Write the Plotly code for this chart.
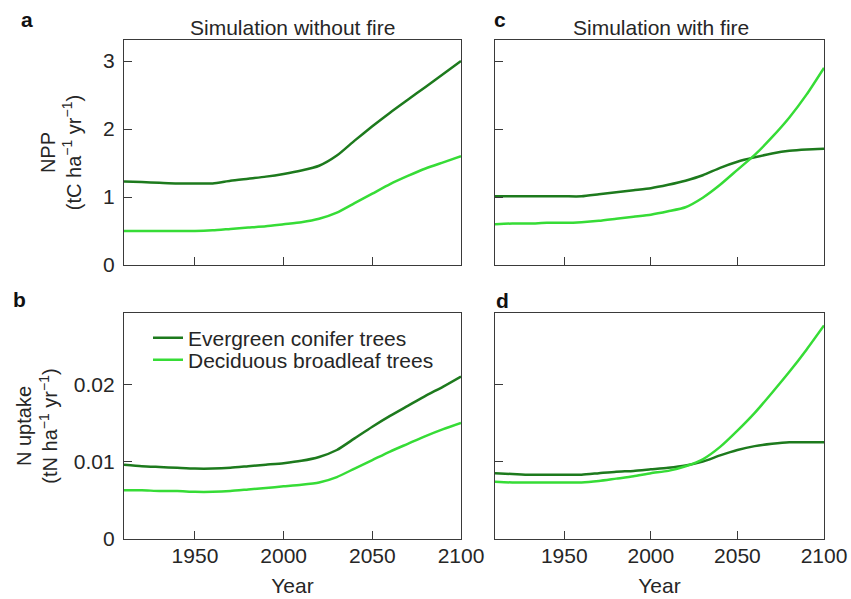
import plotly.graph_objects as go

# ---------------- data ----------------
years = [1910, 1920, 1930, 1940, 1950, 1960, 1970, 1980, 1990, 2000,
         2010, 2020, 2030, 2040, 2050, 2060, 2070, 2080, 2090, 2100]

# NPP (tC ha-1 yr-1), simulation without fire (panel a)
npp_nofire_evergreen = [1.23, 1.22, 1.21, 1.20, 1.20, 1.20, 1.24, 1.27, 1.30, 1.34,
                        1.39, 1.46, 1.61, 1.83, 2.04, 2.24, 2.43, 2.62, 2.81, 3.00]
npp_nofire_deciduous = [0.50, 0.50, 0.50, 0.50, 0.50, 0.51, 0.53, 0.55, 0.57, 0.60,
                        0.63, 0.68, 0.77, 0.91, 1.05, 1.19, 1.31, 1.42, 1.51, 1.60]
# NPP, simulation with fire (panel c)
npp_fire_evergreen = [1.01, 1.01, 1.01, 1.01, 1.01, 1.01, 1.04, 1.07, 1.10, 1.13,
                      1.18, 1.24, 1.32, 1.43, 1.52, 1.585, 1.64, 1.68, 1.70, 1.71]
npp_fire_deciduous = [0.60, 0.61, 0.61, 0.62, 0.62, 0.63, 0.65, 0.68, 0.71, 0.74,
                      0.79, 0.85, 0.99, 1.18, 1.40, 1.62, 1.88, 2.17, 2.51, 2.90]
# N uptake (tN ha-1 yr-1), without fire (panel b)
nup_nofire_evergreen = [0.0096, 0.0094, 0.0093, 0.0092, 0.0091, 0.0091, 0.0092, 0.0094, 0.0096, 0.0098,
                        0.0101, 0.0106, 0.0115, 0.0130, 0.0145, 0.0159, 0.0172, 0.0185, 0.0197, 0.0210]
nup_nofire_deciduous = [0.0063, 0.0063, 0.0062, 0.0062, 0.0061, 0.0061, 0.0062, 0.0064, 0.0066, 0.0068,
                        0.0070, 0.0073, 0.0080, 0.0091, 0.0102, 0.0113, 0.0123, 0.0133, 0.0142, 0.0150]
# N uptake, with fire (panel d)
nup_fire_evergreen = [0.0085, 0.0084, 0.0083, 0.0083, 0.0083, 0.0083, 0.0085, 0.0087, 0.0088, 0.0090,
                      0.0092, 0.0095, 0.0100, 0.0108, 0.0115, 0.0120, 0.0123, 0.0125, 0.0125, 0.0125]
nup_fire_deciduous = [0.0074, 0.0073, 0.0073, 0.0073, 0.0073, 0.0073, 0.0075, 0.0078, 0.0081, 0.0085,
                      0.0088, 0.0094, 0.0103, 0.0119, 0.0140, 0.0163, 0.0189, 0.0216, 0.0245, 0.0276]

series_names = ["Evergreen conifer trees", "Deciduous broadleaf trees"]
x_ticks = [1950, 2000, 2050, 2100]
npp_ticks = [0, 1, 2, 3]
nup_ticks = [0, 0.01, 0.02]
nup_ticklabels = ["0", "0.01", "0.02"]

# ---------------- style ----------------
DARK = "#1d7a1d"
LIGHT = "#36dc36"
FONT = "Liberation Sans, Arial, sans-serif"
TXT = "#262626"
AX = "#3a3a3a"
W, H = 851, 599
ML, MT = 124, 40
MR = W - 824
MB = H - 539
PW, PH = W - ML - MR, H - MT - MB


def px_x(p):
    """picture x pixel -> paper coordinate"""
    return (p - ML) / PW


def px_y(p):
    """picture y pixel -> paper coordinate"""
    return (H - MB - p) / PH


fig = go.Figure()

panels = [
    ("x", "y", npp_nofire_evergreen, npp_nofire_deciduous),
    ("x2", "y2", npp_fire_evergreen, npp_fire_deciduous),
    ("x3", "y3", nup_nofire_evergreen, nup_nofire_deciduous),
    ("x4", "y4", nup_fire_evergreen, nup_fire_deciduous),
]
for xa, ya, ev, de in panels:
    is_leg = (xa == "x3")
    fig.add_trace(go.Scatter(x=years, y=ev, xaxis=xa, yaxis=ya, mode="lines",
                             name=series_names[0], showlegend=is_leg, legend="legend",
                             line=dict(color=DARK, width=2.5, shape="spline", smoothing=0.6)))
    fig.add_trace(go.Scatter(x=years, y=de, xaxis=xa, yaxis=ya, mode="lines",
                             name=series_names[1], showlegend=is_leg, legend="legend2",
                             line=dict(color=LIGHT, width=2.5, shape="spline", smoothing=0.6)))

xdom_left = [0, px_x(461)]
xdom_right = [px_x(495), 1]
ydom_top = [px_y(265), 1]
ydom_bot = [0, px_y(313)]

common_x = dict(range=[1910, 2100], tickvals=x_ticks, ticks="inside", ticklen=8, tickwidth=1.2,
                tickcolor=AX, showline=True, linecolor=AX, linewidth=1.2, mirror=True,
                showgrid=False, zeroline=False, ticklabelstandoff=-2,
                tickfont=dict(family=FONT, size=21, color=TXT))
common_y = dict(ticks="inside", ticklen=8, tickwidth=1.2, tickcolor=AX, showline=True,
                linecolor=AX, linewidth=1.2, mirror=True, showgrid=False, zeroline=False,
                ticklabelstandoff=4, tickfont=dict(family=FONT, size=21, color=TXT))

fig.update_layout(
    xaxis=dict(common_x, domain=xdom_left, anchor="y", showticklabels=False),
    xaxis2=dict(common_x, domain=xdom_right, anchor="y2", showticklabels=False),
    xaxis3=dict(common_x, domain=xdom_left, anchor="y3",
                title=dict(text="Year", standoff=12, font=dict(family=FONT, size=21, color=TXT))),
    xaxis4=dict(common_x, domain=xdom_right, anchor="y4",
                title=dict(text="Year", standoff=12, font=dict(family=FONT, size=21, color=TXT))),
    yaxis=dict(common_y, domain=ydom_top, anchor="x", range=[0, 3.31], tickvals=npp_ticks,
               title=dict(text="NPP<br>(tC ha<sup>−1</sup> yr<sup>−1</sup>)", standoff=16,
                          font=dict(family=FONT, size=20, color=TXT))),
    yaxis2=dict(common_y, domain=ydom_top, anchor="x2", range=[0, 3.31], tickvals=npp_ticks,
                showticklabels=False),
    yaxis3=dict(common_y, domain=ydom_bot, anchor="x3", range=[0, 0.0292], tickvals=nup_ticks,
                ticktext=nup_ticklabels,
                title=dict(text="N uptake<br>(tN ha<sup>−1</sup> yr<sup>−1</sup>)", standoff=10,
                           font=dict(family=FONT, size=20, color=TXT))),
    yaxis4=dict(common_y, domain=ydom_bot, anchor="x4", range=[0, 0.0292], tickvals=nup_ticks,
                showticklabels=False),
    legend=dict(x=px_x(148), y=px_y(338), xanchor="left", yanchor="middle",
                bgcolor="rgba(0,0,0,0)", font=dict(family=FONT, size=21, color=TXT)),
    legend2=dict(x=px_x(148), y=px_y(360), xanchor="left", yanchor="middle",
                 bgcolor="rgba(0,0,0,0)", font=dict(family=FONT, size=21, color=TXT)),
    width=W, height=H,
    margin=dict(l=ML, r=MR, t=MT, b=MB, autoexpand=False),
    paper_bgcolor="white", plot_bgcolor="white",
    font=dict(family=FONT, size=21, color=TXT),
)

annotations = [
    dict(text="Simulation without fire", x=px_x(292.5), y=px_y(27), bold=False),
    dict(text="Simulation with fire", x=px_x(661), y=px_y(27), bold=False),
    dict(text="a", x=px_x(27), y=px_y(19), bold=True),
    dict(text="b", x=px_x(19), y=px_y(299), bold=True),
    dict(text="c", x=px_x(500), y=px_y(20), bold=True),
    dict(text="d", x=px_x(502), y=px_y(300), bold=True),
]
for a in annotations:
    txt = f"<b>{a['text']}</b>" if a["bold"] else a["text"]
    fig.add_annotation(text=txt, x=a["x"], y=a["y"], xref="paper", yref="paper",
                       xanchor="center", yanchor="middle", showarrow=False,
                       font=dict(family=FONT, size=21, color="#111" if a["bold"] else TXT))

# remove the browser's default 8px page margin so the 851x599 figure fills the window
fig.write_html("out.html",
               config={"displayModeBar": False},
               post_script="document.body.style.margin='0';document.body.style.overflow='hidden';")
